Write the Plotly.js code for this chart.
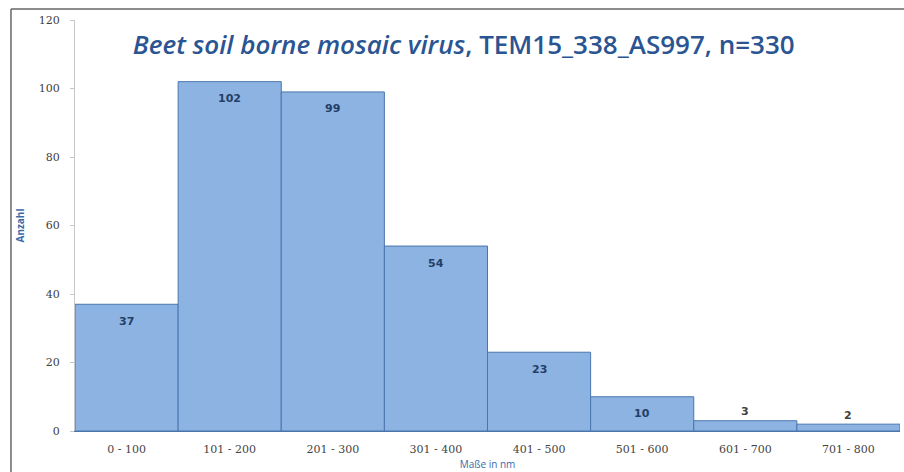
<!DOCTYPE html>
<html><head><meta charset="utf-8">
<script src="https://cdn.plot.ly/plotly-3.0.1.min.js"></script>
<style>html,body{margin:0;padding:0;background:#fff;}#chart{width:904px;height:472px;}</style>
</head><body><div id="chart"></div>
<script>
const categories = ["0 - 100","101 - 200","201 - 300","301 - 400","401 - 500","501 - 600","601 - 700","701 - 800"];
const counts = [37, 102, 99, 54, 23, 10, 3, 2];
const yTicks = [0, 20, 40, 60, 80, 100, 120];
const titleText = "<i>Beet soil borne mosaic virus</i>, TEM15_338_AS997, n=330";
const xTitle = "Maße in nm";
const yTitle = "Anzahl";

const trace = {
  type: 'bar', x: categories, y: counts,
  marker: {color: '#8db3e2', line: {color: '#4a76ad', width: 1}},
  hoverinfo: 'none'
};
const labelAnnotations = categories.map((c, i) => {
  const inside = counts[i] >= 8;
  return {
    x: c, y: counts[i], xref: 'x', yref: 'y', text: String(counts[i]), showarrow: false,
    yanchor: 'middle', yshift: inside ? -17 : 9,
    font: {family: 'DejaVu Sans, sans-serif', size: 11, weight: 'bold', color: inside ? '#243f66' : '#404040'}
  };
});
const layout = {
  width: 904, height: 472,
  margin: {l: 75, r: 4, t: 20, b: 41},
  paper_bgcolor: 'rgba(0,0,0,0)', plot_bgcolor: 'rgba(0,0,0,0)',
  bargap: 0, showlegend: false,
  title: {text: titleText, x: 0.513, xanchor: 'center', y: 0.905, yanchor: 'middle',
    font: {family: 'Open Sans, sans-serif', size: 26, weight: 600, color: '#2a5592'}},
  xaxis: {type: 'category', range: [-0.5, 7.5], showline: true, linecolor: '#4a76ad', linewidth: 1,
    ticks: '', ticklabelstandoff: 8, tickfont: {family: 'DejaVu Serif, serif', size: 11, color: '#454545'},
    title: {text: xTitle, standoff: 5, font: {family: 'Open Sans, sans-serif', size: 10, color: '#3a6aa8'}}},
  yaxis: {range: [0, 120], tickvals: yTicks, showline: true, linecolor: '#c8c8c8', linewidth: 1,
    showgrid: false, zeroline: false, ticks: 'outside', ticklen: 4, tickcolor: '#c8c8c8', ticklabelstandoff: 8,
    tickfont: {family: 'DejaVu Serif, serif', size: 11, color: '#404040'},
    title: {text: yTitle, standoff: 12, font: {family: 'Open Sans, sans-serif', size: 10, color: '#3a6aa8', weight: 'bold'}}},
  annotations: labelAnnotations,
  shapes: [
    {type: 'line', xref: 'paper', yref: 'paper', x0: -0.0776, x1: 1.1, y0: 1.0268, y1: 1.0268, line: {color: '#666', width: 1.5}},
    {type: 'line', xref: 'paper', yref: 'paper', x0: -0.0776, x1: -0.0776, y0: 1.0268, y1: -0.2, line: {color: '#666', width: 1.5}}
  ]
};
Plotly.newPlot('chart', [trace], layout, {staticPlot: true, displayModeBar: false});
</script></body></html>
